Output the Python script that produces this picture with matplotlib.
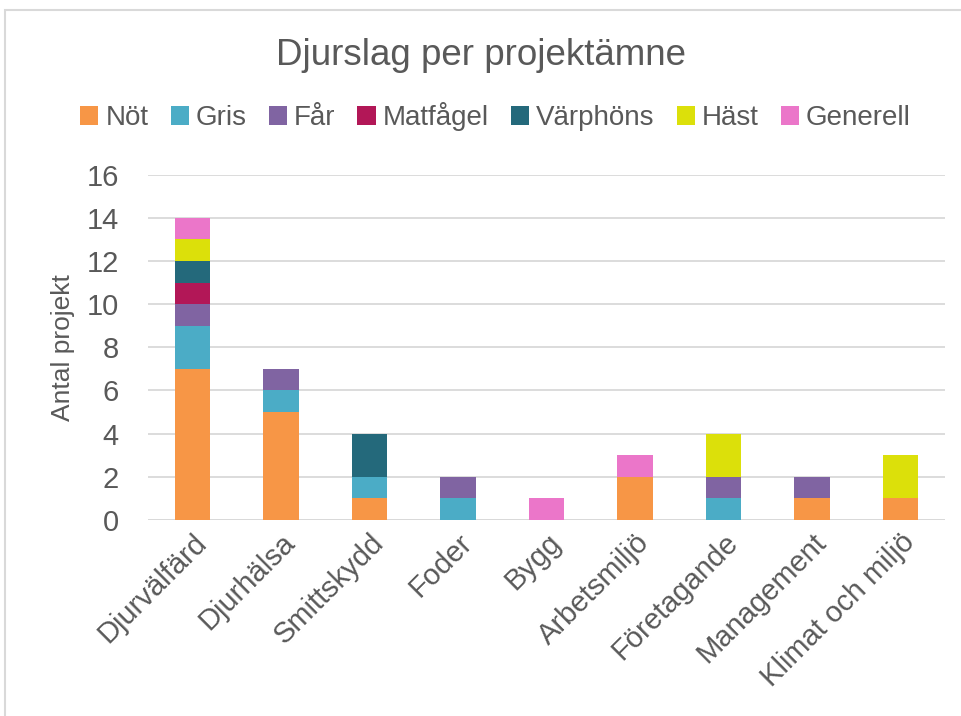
import matplotlib.pyplot as plt
import numpy as np
from matplotlib.patches import Rectangle

plt.rcParams['font.family'] = ['Liberation Sans', 'DejaVu Sans']

categories = ["Djurvälfärd", "Djurhälsa", "Smittskydd", "Foder", "Bygg",
              "Arbetsmiljö", "Företagande", "Management", "Klimat och miljö"]
series = ["Nöt", "Gris", "Får", "Matfågel", "Värphöns", "Häst", "Generell"]
not_ = [7, 5, 1, 0, 0, 2, 0, 1, 1]
gris = [2, 1, 1, 1, 0, 0, 1, 0, 0]
far = [1, 1, 0, 1, 0, 0, 1, 1, 0]
matfagel = [1, 0, 0, 0, 0, 0, 0, 0, 0]
varphons = [1, 0, 2, 0, 0, 0, 0, 0, 0]
hast = [1, 0, 0, 0, 0, 0, 2, 0, 2]
generell = [1, 0, 0, 0, 1, 1, 0, 0, 0]
values = [not_, gris, far, matfagel, varphons, hast, generell]
colors = ["#F79646", "#4BACC6", "#8064A2", "#B21757", "#24697B", "#DCE00A", "#EB76C9"]

text_color = "#595959"

fig = plt.figure(figsize=(9.62, 7.16), dpi=100)
ax = fig.add_axes([0.154, 0.274, 0.828, 0.482])

# chart frame (only top and left edges visible in the reference)
fig.patches.append(Rectangle((5 / 962, -0.1), 1.2, (716 - 10) / 716 + 0.1,
                             transform=fig.transFigure, fill=False,
                             edgecolor="#D9D9D9", linewidth=1.5))

x = np.arange(len(categories))
bottom = np.zeros(len(categories))
for name, vals, c in zip(series, values, colors):
    vals = np.array(vals)
    ax.bar(x, vals, 0.4, bottom=bottom, color=c, label=name, zorder=3)
    bottom += vals

ax.set_xlim(-0.5, len(categories) - 0.5)
ax.set_ylim(0, 16)
ax.set_yticks(range(0, 17, 2))
ax.yaxis.grid(True, color="#D9D9D9", linewidth=1.3, zorder=0)
for s in ax.spines.values():
    s.set_visible(False)
ax.axhline(0, color="#D9D9D9", linewidth=1.3, zorder=1)
ax.tick_params(length=0, labelsize=21, colors=text_color)
ax.tick_params(axis="y", pad=21)
ax.tick_params(axis="x", pad=6)
ax.set_xticks(x)
ax.set_xticklabels(categories, rotation=45, ha="right", rotation_mode="anchor")
ax.set_ylabel("Antal projekt", fontsize=19, color=text_color, labelpad=8)

fig.text(0.5, 0.923, "Djurslag per projektämne", ha="center", va="center",
         fontsize=26.5, color=text_color)
fig.legend(loc="center", bbox_to_anchor=(0.515, 0.837), ncol=7, frameon=False,
           fontsize=20, labelcolor=text_color, handlelength=0.65, handleheight=0.65,
           handletextpad=0.25, columnspacing=0.8)

fig.savefig("out.png", dpi=100)
